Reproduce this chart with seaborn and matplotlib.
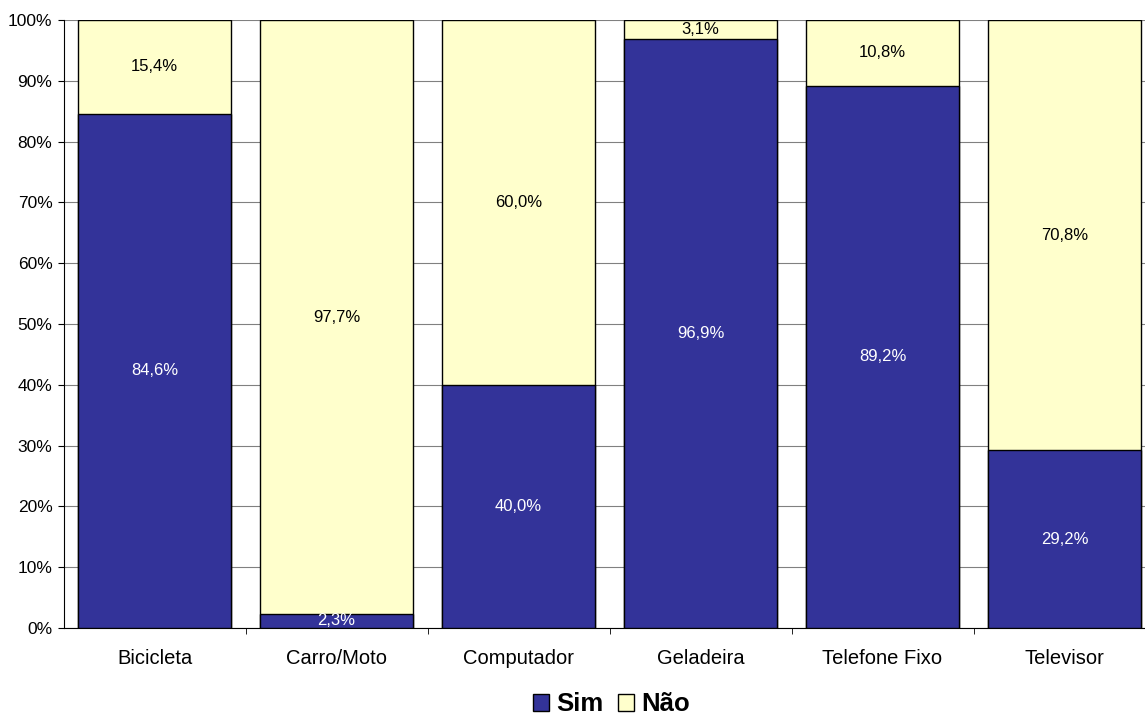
import pandas as pd
import matplotlib.pyplot as plt
import seaborn as sns
from matplotlib.patches import Patch

categorias = ['Bicicleta', 'Carro/Moto', 'Computador', 'Geladeira', 'Telefone Fixo', 'Televisor']
sim = [84.6, 2.3, 40.0, 96.9, 89.2, 29.2]
nao = [15.4, 97.7, 60.0, 3.1, 10.8, 70.8]

cor_sim = '#333399'
cor_nao = '#FFFFCC'

df = pd.DataFrame({'Categoria': categorias, 'Sim': sim, 'Não': nao})
df['Total'] = df['Sim'] + df['Não']

plt.rcParams['font.family'] = ['Liberation Sans', 'DejaVu Sans']
fig = plt.figure(figsize=(11.45, 7.18), dpi=100)
# o eixo passa um pouco da borda direita da figura, como no original
ax = fig.add_axes([0.0555, 0.1255, 0.9537, 0.8465])

# barras empilhadas: total (Não) por baixo, Sim por cima
sns.barplot(data=df, x='Categoria', y='Total', color=cor_nao, width=0.84,
            edgecolor='black', linewidth=1, ax=ax, saturation=1, zorder=2)
sns.barplot(data=df, x='Categoria', y='Sim', color=cor_sim, width=0.84,
            edgecolor='black', linewidth=1, ax=ax, saturation=1, zorder=3)

for i, (s, n) in enumerate(zip(sim, nao)):
    ax.text(i, s / 2, f'{s:.1f}%'.replace('.', ','), ha='center', va='center',
            color='white', fontsize=12, zorder=5)
    ax.text(i, s + n / 2, f'{n:.1f}%'.replace('.', ','), ha='center', va='center',
            color='black', fontsize=12, zorder=5)

ax.set_xlim(-0.5, len(categorias) - 0.5)
ax.set_ylim(0, 100)
ax.set_yticks(range(0, 101, 10))
ax.set_yticklabels([f'{v}%' for v in range(0, 101, 10)], fontsize=12.5)
ax.set_xticks(range(len(categorias)))
ax.set_xticklabels(categorias, fontsize=14.5)
ax.tick_params(axis='x', length=0, pad=15)
ax.set_xticks([i + 0.5 for i in range(len(categorias) - 1)], minor=True)
ax.tick_params(axis='x', which='minor', length=4.5, direction='out')
ax.tick_params(axis='y', length=4.5, direction='out')
ax.set_xlabel('')
ax.set_ylabel('')
ax.grid(axis='y', color='#808080', linewidth=0.8, zorder=0)
ax.set_axisbelow(True)
for lado in ['top', 'right']:
    ax.spines[lado].set_visible(False)
ax.spines['left'].set_color('black')
ax.spines['bottom'].set_color('black')

handles = [Patch(facecolor=cor_sim, edgecolor='black', label='Sim'),
           Patch(facecolor=cor_nao, edgecolor='black', label='Não')]
fig.legend(handles=handles, loc='center', bbox_to_anchor=(0.534, 0.019), ncol=2,
           frameon=False, prop={'weight': 'bold', 'size': 18.5},
           handlelength=0.62, handleheight=0.62, handletextpad=0.28, columnspacing=0.55,
           borderpad=0, borderaxespad=0)

fig.savefig('out.png', dpi=100)
